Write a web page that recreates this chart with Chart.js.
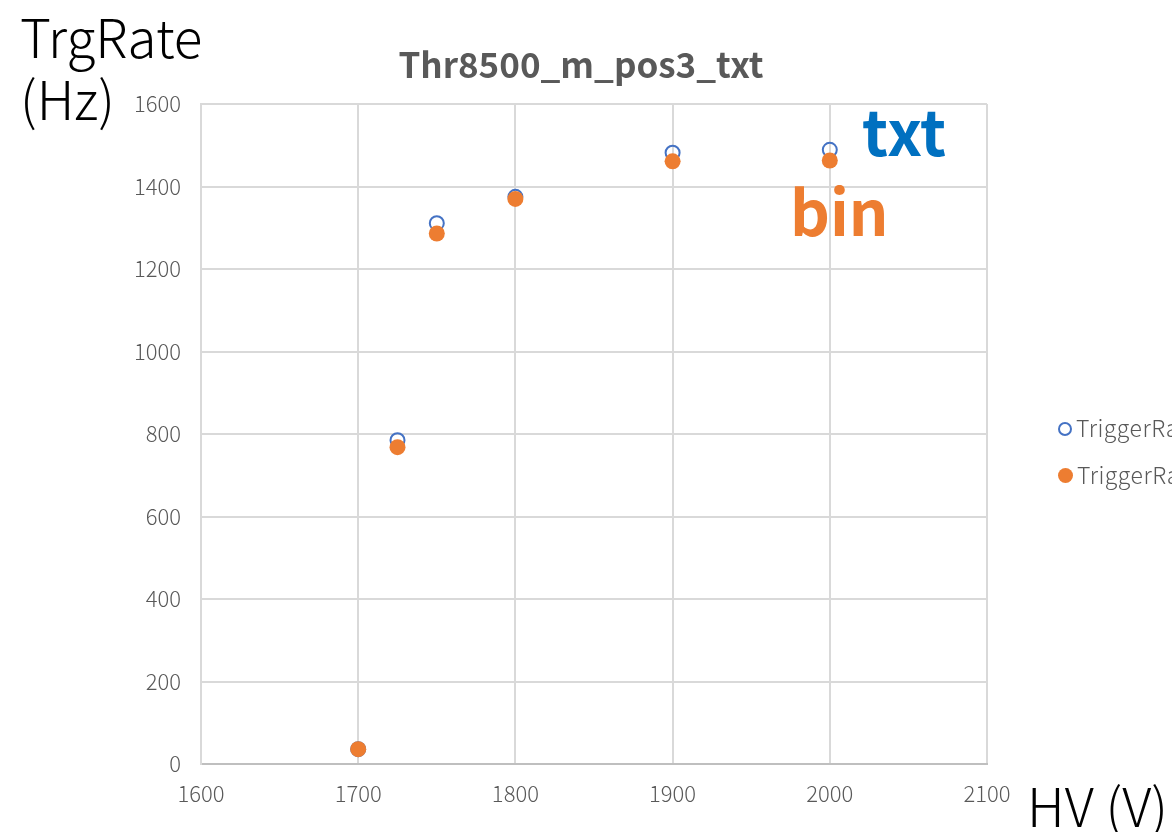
<!DOCTYPE html>
<html>
<head>
<meta charset="utf-8">
<script src="https://cdn.jsdelivr.net/npm/chart.js@4/dist/chart.umd.min.js"></script>
<style>
  html, body { margin: 0; padding: 0; background: #fff; overflow: hidden; }
  body { width: 1172px; height: 832px; position: relative; font-family: 'Noto Sans CJK JP', 'Noto Sans', sans-serif; }
  #wrap { position: absolute; left: 0; top: 0; width: 1172px; height: 832px; }
  .lbl { position: absolute; white-space: nowrap; line-height: 1; }
  #title { left: 0; width: 1162px; top: 45px; text-align: center; font-size: 35px; font-weight: bold; color: #595959; }
  #ytitle { left: 20px; top: 4px; font-size: 53px; font-weight: 300; color: #000; line-height: 62px; }
  #xtitle { left: 1027px; top: 778px; font-size: 53px; font-weight: 300; color: #000; }
  #ann-txt { left: 862px; top: 98px; font-size: 62px; font-weight: bold; color: #0070C0; }
  #ann-bin { left: 790px; top: 178px; font-size: 62px; font-weight: bold; color: #ED7D31; }
  .leg { position: absolute; left: 1058px; font-size: 23px; font-weight: 300; color: #595959; white-space: nowrap; letter-spacing: 0.5px; }
  .sw { display: inline-block; width: 14px; height: 14px; border-radius: 50%; vertical-align: middle; margin-right: 4px; box-sizing: border-box; position: relative; top: -2px; }
</style>
</head>
<body>
<div id="wrap"><canvas id="chart" width="1172" height="832"></canvas></div>
<div class="lbl" id="title">Thr8500_m_pos3_txt</div>
<div class="lbl" id="ytitle">TrgRate<br>(Hz)</div>
<div class="lbl" id="xtitle">HV (V)</div>
<div class="lbl" id="ann-txt">txt</div>
<div class="lbl" id="ann-bin">bin</div>
<div class="leg" style="top:410px"><span class="sw" style="border:2px solid #4472C4"></span>TriggerRate_txt</div>
<div class="leg" style="top:457px"><span class="sw" style="background:#ED7D31;width:15px;height:15px"></span>TriggerRate_bin</div>
<script>
// HV settings (V)
const hvValues = [1700, 1725, 1750, 1800, 1900, 2000];
// trigger rate read from txt output (Hz)
const rateTxt = [36, 785, 1311, 1375, 1482, 1489];
// trigger rate read from bin output (Hz)
const rateBin = [36, 768, 1286, 1370, 1461, 1463];

const xTicks = [1600, 1700, 1800, 1900, 2000, 2100];
const yTicks = [0, 200, 400, 600, 800, 1000, 1200, 1400, 1600];

const gridColor = '#d9d9d9';
const tickFont = { family: "'Noto Sans CJK JP', 'Noto Sans', sans-serif", size: 22, weight: '300' };

new Chart(document.getElementById('chart'), {
    type: 'scatter',
    data: {
        datasets: [
            {
                label: 'TriggerRate_bin',
                data: hvValues.map((x, i) => ({ x, y: rateBin[i] })),
                backgroundColor: '#ED7D31',
                borderColor: '#ED7D31',
                borderWidth: 0,
                pointRadius: 8,
                order: 0
            },
            {
                label: 'TriggerRate_txt',
                data: hvValues.map((x, i) => ({ x, y: rateTxt[i] })),
                backgroundColor: 'rgba(255,255,255,0)',
                borderColor: '#4472C4',
                borderWidth: 2,
                pointRadius: 7,
                order: 1
            }
        ]
    },
    options: {
        responsive: false,
        animation: false,
        layout: { padding: { left: 0, right: 185, top: 104, bottom: 0 } },
        plugins: {
            legend: { display: false },
            tooltip: { enabled: false }
        },
        scales: {
            x: {
                type: 'linear',
                min: 1600,
                max: 2100,
                afterBuildTicks: (scale) => { scale.ticks = xTicks.map(v => ({ value: v })); },
                afterFit: (scale) => { scale.height = 68; },
                ticks: { color: '#595959', font: tickFont, padding: 16, maxRotation: 0, callback: (v) => String(v) },
                grid: { color: gridColor, lineWidth: 2, drawTicks: false },
                border: { color: '#bfbfbf', width: 2 }
            },
            y: {
                type: 'linear',
                min: 0,
                max: 1600,
                afterBuildTicks: (scale) => { scale.ticks = yTicks.map(v => ({ value: v })); },
                afterFit: (scale) => { scale.width = 201; },
                ticks: { color: '#595959', font: tickFont, padding: 20, callback: (v) => String(v) },
                grid: { color: gridColor, lineWidth: 2, drawTicks: false },
                border: { color: gridColor, width: 2 }
            }
        }
    }
});
</script>
</body>
</html>
